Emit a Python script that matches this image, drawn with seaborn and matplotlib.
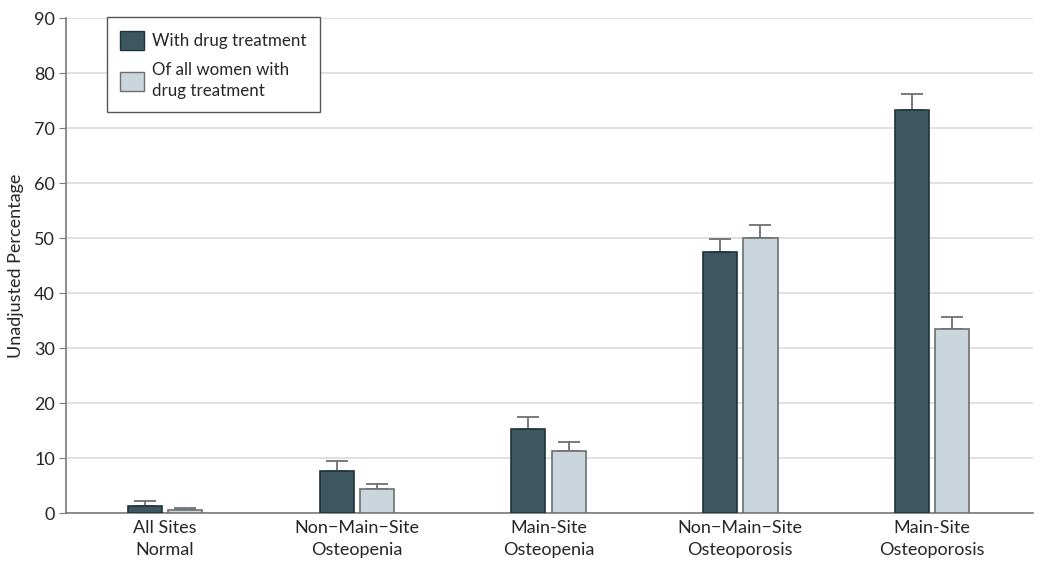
import numpy as np
import pandas as pd
import matplotlib
matplotlib.use("Agg")
import matplotlib.pyplot as plt
import seaborn as sns

# data
categories = ["All Sites\nNormal", "Non\u2212Main\u2212Site\nOsteopenia", "Main-Site\nOsteopenia",
              "Non\u2212Main\u2212Site\nOsteoporosis", "Main-Site\nOsteoporosis"]
series = ["With drug treatment", "Of all women with\ndrug treatment"]
with_drug = [1.2, 7.6, 15.2, 47.5, 73.3]
with_drug_upper = [2.2, 9.5, 17.4, 49.8, 76.2]
of_all = [0.6, 4.4, 11.3, 50.1, 33.5]
of_all_upper = [0.9, 5.3, 13.0, 52.4, 35.6]
yticks = [0, 10, 20, 30, 40, 50, 60, 70, 80, 90]

colors = ["#385865", "#c8d7df"]
edges = ["#1e333b", "#6b6f72"]

df = pd.DataFrame({
    "category": categories * 2,
    "series": [series[0]] * 5 + [series[1]] * 5,
    "value": with_drug + of_all,
})

sns.set_style("white")
plt.rcParams["font.family"] = ["Lato", "DejaVu Sans"]

fig = plt.figure(figsize=(10.5, 5.68), dpi=100)
ax = fig.add_axes([0.0629, 0.0968, 0.921, 0.871])

sns.barplot(data=df, x="category", y="value", hue="series", palette=colors,
            width=0.42, gap=0.15, errorbar=None, ax=ax, zorder=3)

# bar edges and upper-only error bars
uppers = with_drug_upper + of_all_upper
vals = with_drug + of_all
for i, p in enumerate(ax.patches[:10]):
    p.set_edgecolor(edges[i // 5])
    p.set_linewidth(1.2)
    cx = p.get_x() + p.get_width() / 2
    ax.errorbar(cx, vals[i], yerr=[[0], [uppers[i] - vals[i]]], fmt="none",
                ecolor="#6f6f6f", elinewidth=1.3, capsize=8, capthick=1.3, zorder=2)

ax.set_xlim(-0.516, 4.527)
ax.set_ylim(0, 90)
ax.set_yticks(yticks)
ax.yaxis.grid(True, color="#dcdcdc", linewidth=1.2, zorder=0)
ax.set_axisbelow(True)
for s in ["top", "right"]:
    ax.spines[s].set_visible(False)
for s in ["left", "bottom"]:
    ax.spines[s].set_color("#7a7a7a")
    ax.spines[s].set_linewidth(1.2)
ax.tick_params(axis="y", length=5, color="#7a7a7a", labelsize=13, pad=3, left=True)
ax.tick_params(axis="x", length=0, labelsize=13, pad=5)
for t in ax.get_xticklabels():
    t.set_linespacing(1.45)
ax.set_xlabel("")
ax.set_ylabel("Unadjusted Percentage", fontsize=13, labelpad=7)

leg = ax.legend(loc="upper left", bbox_to_anchor=(0.042, 1.002), borderaxespad=0,
                fontsize=12.2, frameon=True, fancybox=False, edgecolor="#555555",
                framealpha=1, handlelength=1.4, handleheight=1.4, handletextpad=0.5,
                borderpad=0.8, labelspacing=0.7)
leg.get_frame().set_linewidth(1.0)
for h, e in zip(leg.legend_handles, edges):
    h.set_edgecolor(e)
    h.set_linewidth(1.0)
for t in leg.get_texts():
    t.set_linespacing(1.35)

fig.savefig("out.png", dpi=100)
